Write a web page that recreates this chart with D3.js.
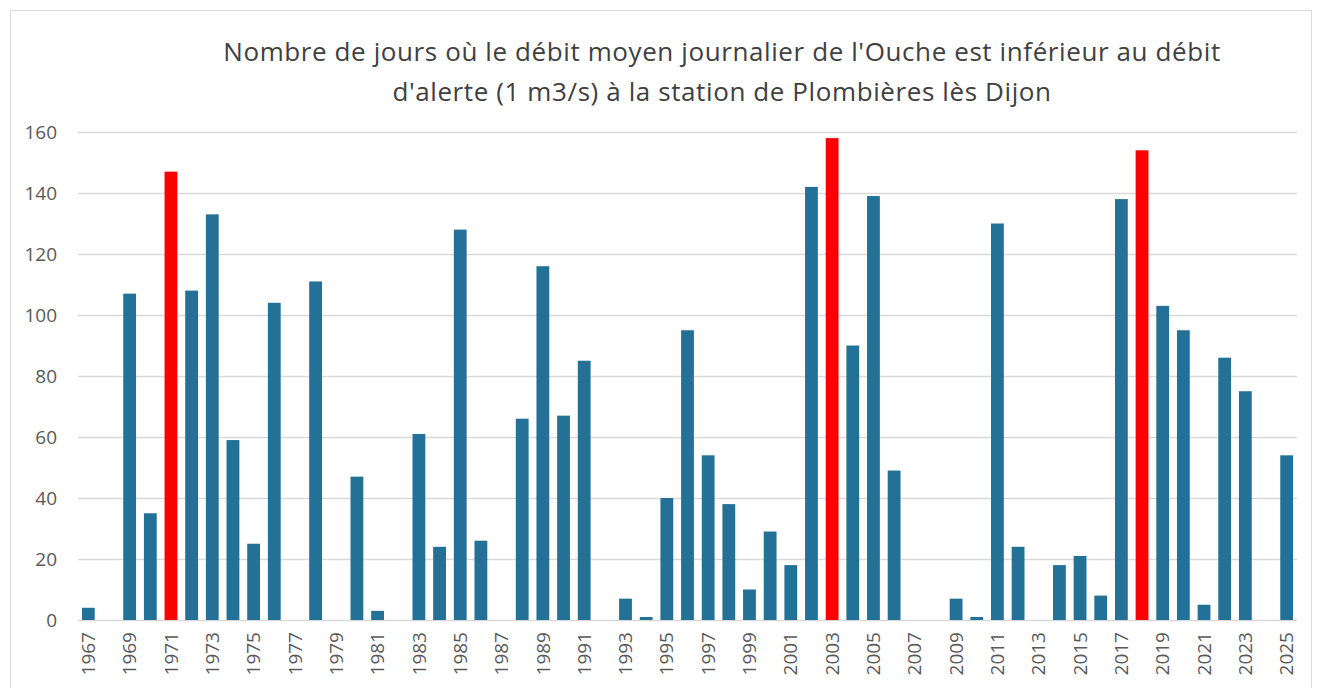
<!DOCTYPE html>
<html>
<head>
<meta charset="utf-8">
<script src="https://cdn.jsdelivr.net/npm/d3@7"></script>
<style>
  body { margin: 0; background: #fff; }
  text { font-family: "Open Sans", "Noto Sans", sans-serif; }
</style>
</head>
<body>
<div id="chart"></div>
<script>
const years = d3.range(1967, 2026).map(String);
const days = [4, 0, 107, 35, 147, 108, 133, 59, 25, 104,
  0, 111, 0, 47, 3, 0, 61, 24, 128, 26,
  0, 66, 116, 67, 85, 0, 7, 1, 40, 95,
  54, 38, 10, 29, 18, 142, 158, 90, 139, 49,
  0, 0, 7, 1, 130, 24, 0, 18, 21, 8,
  138, 154, 103, 95, 5, 86, 75, 0, 54];
const highlighted = ["1971", "2003", "2018"];
const yTicks = [0, 20, 40, 60, 80, 100, 120, 140, 160];
const titleLines = [
  "Nombre de jours où le débit moyen journalier de l'Ouche est inférieur au débit",
  "d'alerte (1 m3/s) à la station de Plombières lès Dijon"
];

const data = years.map((y, i) => ({ year: y, value: days[i] }));

const width = 1322, height = 688;
const margin = { top: 132, right: 25, bottom: 68, left: 78 };

const svg = d3.select("#chart")
  .append("svg")
  .attr("width", width)
  .attr("height", height);

// chart frame
svg.append("rect")
  .attr("x", 10.5).attr("y", 10.5)
  .attr("width", 1301).attr("height", 700)
  .attr("fill", "none")
  .attr("stroke", "#d9d9d9");

const x = d3.scaleBand()
  .domain(years)
  .range([margin.left, width - margin.right])
  .paddingInner(0.38)
  .paddingOuter(0.19);

const y = d3.scaleLinear()
  .domain([0, 160])
  .range([height - margin.bottom, margin.top]);

// gridlines
svg.append("g")
  .selectAll("line")
  .data(yTicks)
  .join("line")
  .attr("x1", margin.left)
  .attr("x2", width - margin.right)
  .attr("y1", d => Math.round(y(d)) + 0.5)
  .attr("y2", d => Math.round(y(d)) + 0.5)
  .attr("stroke", "#d9d9d9")
  .attr("stroke-width", 1.5);

// y labels
const yAxis = svg.append("g")
  .attr("transform", `translate(${margin.left},0)`)
  .call(d3.axisLeft(y).tickValues(yTicks).tickSize(0).tickPadding(21));
yAxis.select(".domain").remove();
yAxis.selectAll("text")
  .attr("fill", "#595959")
  .style("font-size", "19px");

// bars
svg.append("g")
  .selectAll("rect")
  .data(data)
  .join("rect")
  .attr("x", d => x(d.year))
  .attr("y", d => y(d.value))
  .attr("width", x.bandwidth())
  .attr("height", d => y(0) - y(d.value))
  .attr("fill", d => highlighted.includes(d.year) ? "#ff0000" : "#237197");

// x labels, every other year, rotated
const xAxis = svg.append("g")
  .attr("transform", `translate(0,${y(0)})`)
  .call(d3.axisBottom(x).tickValues(years.filter((d, i) => i % 2 === 0)).tickSize(0));
xAxis.select(".domain").remove();
xAxis.selectAll("text")
  .attr("fill", "#595959")
  .style("font-size", "19px")
  .attr("text-anchor", "end")
  .attr("dy", "0.35em")
  .attr("transform", "translate(0,12) rotate(-90)")
  .attr("y", 0)
  .attr("x", 0);

// title
svg.append("g")
  .selectAll("text")
  .data(titleLines)
  .join("text")
  .attr("x", 722)
  .attr("y", (d, i) => 61 + i * 40)
  .attr("text-anchor", "middle")
  .attr("fill", "#404040")
  .style("font-size", "26px")
  .style("letter-spacing", "0.6px")
  .text(d => d);
</script>
</body>
</html>
